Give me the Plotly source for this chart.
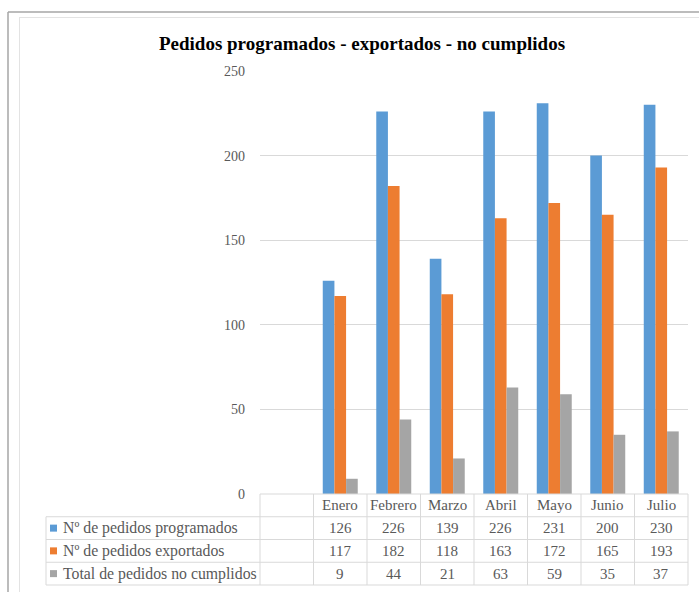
import plotly.graph_objects as go

# ---- data ----
months = ["Enero", "Febrero", "Marzo", "Abril", "Mayo", "Junio", "Julio"]
series_names = [
    "Nº de pedidos programados",
    "Nº de pedidos exportados",
    "Total de pedidos no cumplidos",
]
programados = [126, 226, 139, 226, 231, 200, 230]
exportados = [117, 182, 118, 163, 172, 165, 193]
no_cumplidos = [9, 44, 21, 63, 59, 35, 37]
series_values = [programados, exportados, no_cumplidos]
series_colors = ["#5B9BD5", "#ED7D31", "#A5A5A5"]
y_ticks = [0, 50, 100, 150, 200, 250]

# ---- geometry (pixels) ----
W, H = 699, 592
PL, PR, PT, PB = 260, 688, 71, 494  # plot area edges
PW, PH = PR - PL, PB - PT
SERIF = "Liberation Serif, Times New Roman, serif"
TXT = "#595959"
GRID = "#D9D9D9"

# month slot 0 is left blank; months occupy slots 1..7
n_slots = len(months) + 1
xpos = [i + 1 for i in range(len(months))]


def px_x(px):
    return (px - PL) / PW


def px_y(py):
    return (PB - py) / PH


def slot_x(s):
    # paper x of a slot edge, s in slot units (0 = left edge of plot area)
    return s / n_slots


fig = go.Figure()
for name, vals, col in zip(series_names, series_values, series_colors):
    fig.add_trace(go.Bar(
        x=xpos, y=vals, name=name,
        marker=dict(color=col, line=dict(width=0)),
    ))

shapes = []
annotations = []

# frame lines around the chart
shapes.append(dict(type="line", xref="paper", yref="paper",
                   x0=px_x(8), x1=px_x(W + 2), y0=px_y(12), y1=px_y(12),
                   line=dict(color="#A6A6A6", width=1.5)))
shapes.append(dict(type="line", xref="paper", yref="paper",
                   x0=px_x(8), x1=px_x(8), y0=px_y(12), y1=px_y(H + 2),
                   line=dict(color="#A6A6A6", width=1.5)))
shapes.append(dict(type="line", xref="paper", yref="paper",
                   x0=px_x(19), x1=px_x(W + 2), y0=px_y(17.5), y1=px_y(17.5),
                   line=dict(color="#E3E3E3", width=1)))
shapes.append(dict(type="line", xref="paper", yref="paper",
                   x0=px_x(19.5), x1=px_x(19.5), y0=px_y(17.5), y1=px_y(H + 2),
                   line=dict(color="#E3E3E3", width=1)))

# ---- data table below the plot ----
row_h = 22.75
row_edges = [PB + k * row_h for k in range(5)]  # header + 3 rows
TL = 46  # left edge of the label column
line_style = dict(color=GRID, width=1)

# horizontal lines
shapes.append(dict(type="line", xref="paper", yref="paper",
                   x0=0, x1=1, y0=px_y(row_edges[0]), y1=px_y(row_edges[0]),
                   line=line_style))
for ry in row_edges[1:]:
    shapes.append(dict(type="line", xref="paper", yref="paper",
                       x0=px_x(TL), x1=1, y0=px_y(ry), y1=px_y(ry),
                       line=line_style))
# vertical lines
shapes.append(dict(type="line", xref="paper", yref="paper",
                   x0=px_x(TL), x1=px_x(TL),
                   y0=px_y(row_edges[1]), y1=px_y(row_edges[4]),
                   line=line_style))
for s in range(n_slots + 1):
    shapes.append(dict(type="line", xref="paper", yref="paper",
                       x0=slot_x(s), x1=slot_x(s),
                       y0=px_y(row_edges[0]), y1=px_y(row_edges[4]),
                       line=line_style))

# header row: month names
for i, m in enumerate(months):
    annotations.append(dict(
        xref="paper", yref="paper", x=slot_x(xpos[i] + 0.5),
        y=px_y((row_edges[0] + row_edges[1]) / 2), text=m, showarrow=False,
        xanchor="center", yanchor="middle",
        font=dict(family=SERIF, size=15, color=TXT)))

# series rows: legend key, name, values
for r, (name, vals, col) in enumerate(zip(series_names, series_values, series_colors)):
    yc = px_y((row_edges[r + 1] + row_edges[r + 2]) / 2)
    shapes.append(dict(type="rect", xref="paper", yref="paper",
                       x0=px_x(50), x1=px_x(57),
                       y0=yc - 3.5 / PH, y1=yc + 3.5 / PH,
                       fillcolor=col, line=dict(width=0)))
    annotations.append(dict(
        xref="paper", yref="paper", x=px_x(61), y=yc, text=name,
        showarrow=False, xanchor="left", yanchor="middle",
        font=dict(family=SERIF, size=15.8, color=TXT)))
    for i, v in enumerate(vals):
        annotations.append(dict(
            xref="paper", yref="paper", x=slot_x(xpos[i] + 0.5), y=yc,
            text=str(v), showarrow=False, xanchor="center", yanchor="middle",
            font=dict(family=SERIF, size=15, color=TXT)))

fig.update_layout(
    width=W, height=H,
    margin=dict(l=PL, r=W - PR, t=PT, b=H - PB, pad=0),
    paper_bgcolor="white", plot_bgcolor="white",
    barmode="group", bargap=0.346, bargroupgap=0,
    showlegend=False,
    title=dict(
        text="Pedidos programados - exportados - no cumplidos",
        x=362 / W, xref="container", xanchor="center",
        y=1 - 43 / H, yref="container", yanchor="middle",
        font=dict(family=SERIF, size=19, color="#000000", weight="bold"),
    ),
    xaxis=dict(range=[-0.5, n_slots - 0.5], showticklabels=False,
               showgrid=False, zeroline=False, showline=False, ticks=""),
    yaxis=dict(range=[0, 250], tickvals=y_ticks, showgrid=True,
               gridcolor=GRID, gridwidth=1, zeroline=False, showline=False,
               ticks="", ticklabelstandoff=14,
               tickfont=dict(family=SERIF, size=14, color=TXT)),
    shapes=shapes, annotations=annotations,
)

fig.write_html("out.html")
